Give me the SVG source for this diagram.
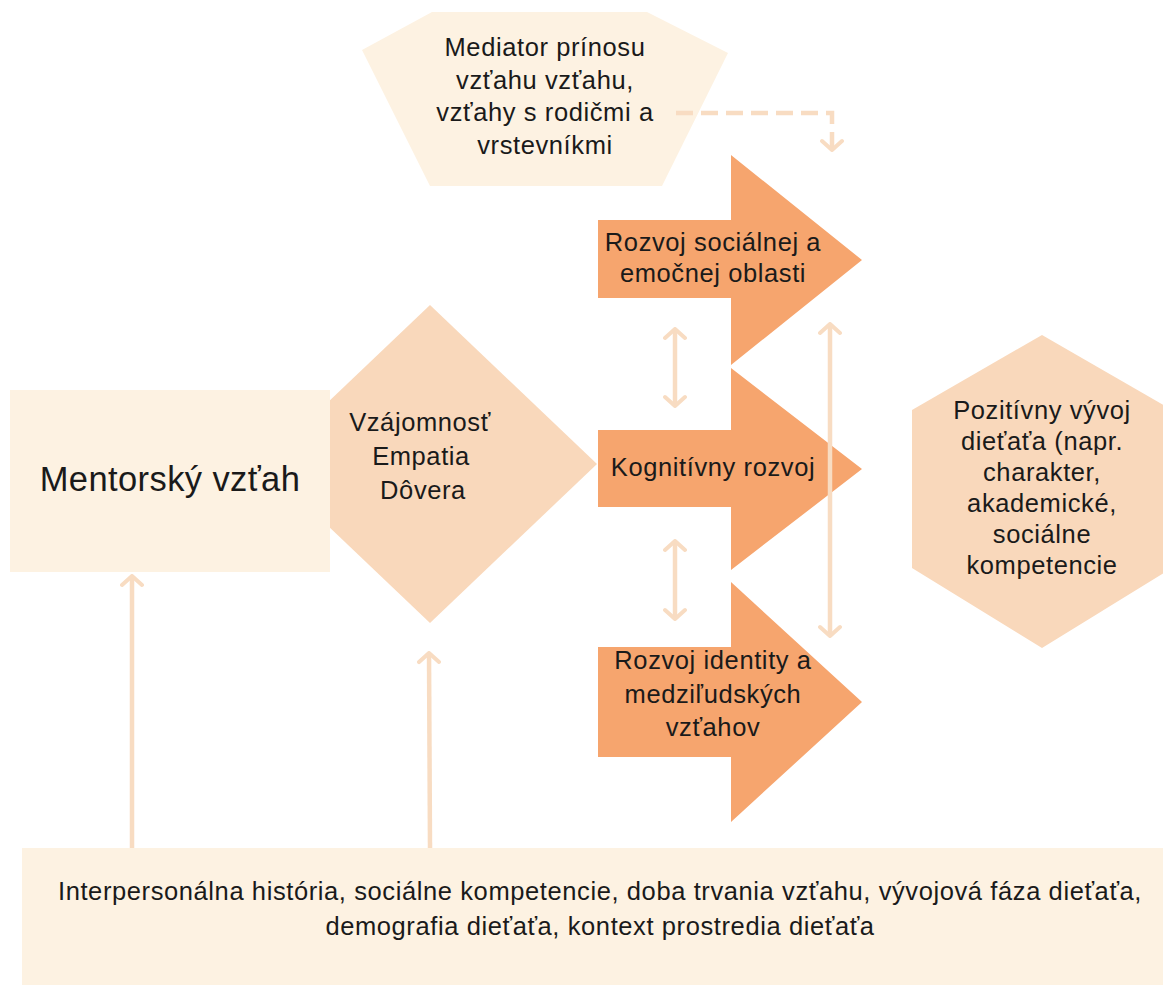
<svg xmlns="http://www.w3.org/2000/svg" width="1163" height="985" viewBox="0 0 1163 985">
  <defs>
    <style>
      .cream { fill: #FDF2E2; }
      .peach { fill: #F9D8BB; }
      .orange { fill: #F6A56E; }
      .t { font-family: "Liberation Sans", Arial, sans-serif; font-size: 25.5px; letter-spacing: 0.6px; fill: #1a1a1a; text-anchor: middle; }
      .big { font-size: 34.5px; letter-spacing: 0.4px; }
      .conn { fill: none; stroke: #F8DCC2; stroke-width: 4.5; }
      .dash { stroke-dasharray: 17 8; }
    </style>
    <marker id="chev" viewBox="-12 -12 14 24" refX="0" refY="0" markerWidth="14" markerHeight="24" markerUnits="userSpaceOnUse" orient="auto-start-reverse">
      <path d="M-9,-10 L0,0 L-9,10" fill="none" stroke="#F8DCC2" stroke-width="4" stroke-linecap="round" stroke-linejoin="round"/>
    </marker>
  </defs>
  <rect width="1163" height="985" fill="#FFFFFF"/>

  <g id="mediator">
    <polygon class="cream" points="432,12 647,12 728,53 662,186 430,186 362,50"/>
    <text class="t" x="545" y="56">Mediator prínosu</text>
    <text class="t" x="545" y="89">vzťahu vzťahu,</text>
    <text class="t" x="545" y="121">vzťahy s rodičmi a</text>
    <text class="t" x="545" y="154">vrstevníkmi</text>
  </g>

  <g id="vzajomnost">
    <polygon class="peach" points="430,305 597,464 430,623 263,464"/>
    <text class="t" x="420" y="431">Vzájomnosť</text>
    <text class="t" x="421" y="465">Empatia</text>
    <text class="t" x="423" y="499">Dôvera</text>
  </g>

  <g id="mentorsky">
    <rect class="cream" x="10" y="390" width="320" height="182"/>
    <text class="t big" x="170" y="491">Mentorský vzťah</text>
  </g>

  <g id="socialny">
    <path class="orange" d="M598,220 L731,220 L731,155 L862,260 L731,365 L731,298 L598,298 Z"/>
    <text class="t" x="713" y="251">Rozvoj sociálnej a</text>
    <text class="t" x="713" y="282">emočnej oblasti</text>
  </g>

  <g id="kognitivny">
    <path class="orange" d="M598,430 L731,430 L731,368 L862,469 L731,570 L731,507 L598,507 Z"/>
    <text class="t" x="713" y="476">Kognitívny rozvoj</text>
  </g>

  <g id="identita">
    <path class="orange" d="M598,647 L731,647 L731,582 L862,702 L731,822 L731,757 L598,757 Z"/>
    <text class="t" x="713" y="669">Rozvoj identity a</text>
    <text class="t" x="713" y="703">medziľudských</text>
    <text class="t" x="713" y="736">vzťahov</text>
  </g>

  <g id="pozitivny">
    <polygon class="peach" points="1042,335 1172,410 1172,568 1042,648 912,568 912,410"/>
    <text class="t" x="1042" y="419">Pozitívny vývoj</text>
    <text class="t" x="1042" y="450">dieťaťa (napr.</text>
    <text class="t" x="1042" y="481">charakter,</text>
    <text class="t" x="1042" y="512">akademické,</text>
    <text class="t" x="1042" y="543">sociálne</text>
    <text class="t" x="1042" y="574">kompetencie</text>
  </g>

  <g id="faktory">
    <rect class="cream" x="22" y="848" width="1141" height="137"/>
    <text class="t" x="600" y="900">Interpersonálna história, sociálne kompetencie, doba trvania vzťahu, vývojová fáza dieťaťa,</text>
    <text class="t" x="600" y="935">demografia dieťaťa, kontext prostredia dieťaťa</text>
  </g>

  <g id="connectors">
    <path class="conn dash" d="M676,113 L832,113 L832,150" marker-end="url(#chev)"/>
    <line class="conn" x1="675" y1="329" x2="675" y2="406" marker-start="url(#chev)" marker-end="url(#chev)"/>
    <line class="conn" x1="675" y1="541" x2="675" y2="619" marker-start="url(#chev)" marker-end="url(#chev)"/>
    <line class="conn" x1="830" y1="324" x2="830" y2="636" marker-start="url(#chev)" marker-end="url(#chev)"/>
    <line class="conn" x1="132" y1="848" x2="132" y2="576" marker-end="url(#chev)"/>
    <line class="conn" x1="430" y1="848" x2="429" y2="653" marker-end="url(#chev)"/>
  </g>
</svg>
